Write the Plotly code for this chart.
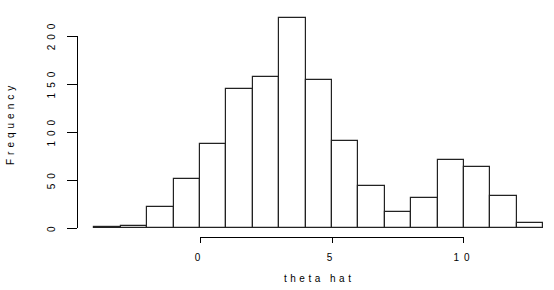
import plotly.graph_objects as go

# Histogram data (bin width 1, bins from -4 to 13)
bin_lefts = list(range(-4, 13))
counts = [1, 2, 22, 51, 88, 145, 157, 219, 154, 91, 44, 17, 32, 71, 64, 34, 5]
x_ticks = [0, 5, 10]
y_ticks = [0, 50, 100, 150, 200]
x_title = "theta hat"
y_title = "Frequency"

W, H = 554, 290
ML, MR, MT, MB = 77, 0, 9, 53
xr = [-4.66, 13.41]
yr = [-9.05, 228.1]

def xfrac(v):
    return (v - xr[0]) / (xr[1] - xr[0])

def yfrac(v):
    return (v - yr[0]) / (yr[1] - yr[0])

def spaced(s, px=3.5):
    return '<span style="letter-spacing:%spx">%s</span>' % (px, s)

centers = [b + 0.5 for b in bin_lefts]
font = dict(family="Liberation Sans, Arial, Helvetica, sans-serif", size=10, color="black")

fig = go.Figure()
fig.add_trace(go.Bar(
    x=centers, y=counts, width=[1] * len(counts),
    marker=dict(color="white", line=dict(color="#222222", width=1.2)),
    xaxis="x", yaxis="y", hoverinfo="skip", showlegend=False,
))
# invisible trace to carry the R-style axes
fig.add_trace(go.Scatter(
    x=[x_ticks[0], x_ticks[-1]], y=[y_ticks[0], y_ticks[-1]], mode="markers",
    marker=dict(opacity=0), xaxis="x2", yaxis="y2", hoverinfo="skip", showlegend=False,
))

x_mid = (bin_lefts[0] + bin_lefts[-1] + 1) / 2
y_mid = max(counts) / 2

fig.update_layout(
    width=W, height=H,
    margin=dict(l=ML, r=MR, t=MT, b=MB, pad=0),
    paper_bgcolor="white", plot_bgcolor="rgba(0,0,0,0)",
    font=font,
    bargap=0,
    xaxis=dict(range=xr, domain=[0, 1], visible=False, fixedrange=True),
    yaxis=dict(range=yr, domain=[0, 1], visible=False, fixedrange=True),
    xaxis2=dict(
        range=[x_ticks[0], x_ticks[-1]],
        domain=[xfrac(x_ticks[0]), xfrac(x_ticks[-1])],
        anchor="free", position=0,
        showline=True, linecolor="black", linewidth=1,
        ticks="outside", ticklen=5, tickwidth=1, tickcolor="black",
        tickvals=x_ticks, ticktext=[spaced(str(v), 5) for v in x_ticks],
        showgrid=False, zeroline=False, automargin=False,
        ticklabelstandoff=6,
        tickfont=font,
    ),
    yaxis2=dict(
        range=[y_ticks[0], y_ticks[-1]],
        domain=[yfrac(y_ticks[0]), yfrac(y_ticks[-1])],
        anchor="free", position=0,
        showline=True, linecolor="black", linewidth=1,
        ticks="outside", ticklen=10, tickwidth=1, tickcolor="black",
        tickvals=y_ticks, ticktext=[spaced(str(v), 5) for v in y_ticks],
        tickangle=-90,
        showgrid=False, zeroline=False, automargin=False,
        ticklabelstandoff=8,
        tickfont=font,
    ),
    annotations=[
        dict(text=spaced(x_title, 3.5), xref="x", x=x_mid, yref="paper", y=-0.184,
             xanchor="center", yanchor="middle", showarrow=False, font=font),
        dict(text=spaced(y_title, 4), xref="paper", x=-0.1405, yref="y", y=y_mid,
             xanchor="center", yanchor="middle", textangle=-90, showarrow=False, font=font),
    ],
)

fig.write_html("out.html")
